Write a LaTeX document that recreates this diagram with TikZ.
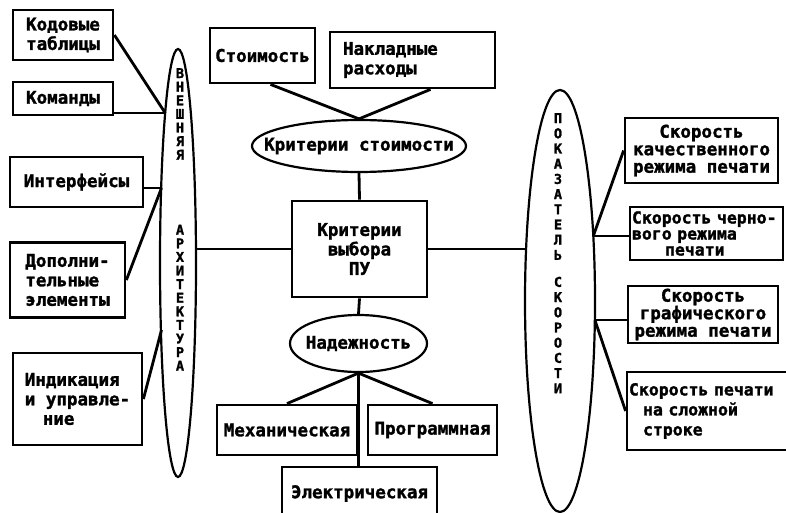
\documentclass[tikz,border=0pt]{standalone}
\usepackage{fontspec}
\newfontfamily\pf[BoldFont={* Bold}, BoldFeatures={FakeBold=1.6}]{DejaVu Sans Mono}
\usetikzlibrary{shapes.geometric}
\begin{document}
\begin{tikzpicture}[x=1pt,y=-1pt,
  txt/.style={font=\pf\bfseries\fontsize{17.5}{19.5}\selectfont},
  small/.style={font=\pf\bfseries\fontsize{16.5}{#1}\selectfont},
  blk/.style={txt, draw, line width=2.8pt, inner sep=0pt, align=center},
  oval/.style={txt, draw, ellipse, line width=2.2pt, inner sep=0pt},
  link/.style={line width=2.8pt},
  vtxt/.style={font=\pf\bfseries\fontsize{13.5}{#1}\selectfont, align=center, inner sep=0pt}
]
\useasboundingbox (0,0) rectangle (786,513);
\clip (0,0) rectangle (786,513);

% ---- left column: external architecture ----
\node[blk, minimum width=100pt, minimum height=50pt] (kt) at (63,35) {Кодовые\\таблицы};
\node[blk, minimum width=100pt, minimum height=33pt] (km) at (63,98.5) {Команды};
\node[blk, minimum width=133pt, minimum height=50pt] (intf) at (76.5,182) {Интерфейсы};
\node[blk, align=left, minimum width=115pt, minimum height=75pt] (dop) at (67.5,280) {Дополни-\\тельные\\элементы};
\node[blk, align=left, minimum width=129pt, minimum height=92pt] (ind) at (77.5,399) {Индикация\\и управле-\\\hspace*{18pt}ние};

\node[draw, ellipse, line width=2.2pt, minimum width=36pt, minimum height=428pt, inner sep=0pt] (le) at (178,263) {};
\node[vtxt=13.6, anchor=north] (lw) at (180,68)
  {В\\Н\\Е\\Ш\\Н\\Я\\Я\\[61.4pt]А\\Р\\Х\\И\\Т\\Е\\К\\Т\\У\\Р\\А};

% ---- centre column ----
\node[blk, minimum width=105pt, minimum height=55pt] (st) at (262.5,55.5) {Стоимость};
\node[blk, align=left, text width=139pt, inner xsep=13pt, minimum height=56pt] (nr) at (412.5,60) {Накладные\\расходы};
\node[oval, minimum width=214pt, minimum height=52pt] (kc) at (359,146) {\makebox[0pt]{Критерии стоимости}};
\node[blk, minimum width=135pt, minimum height=96pt] (kv) at (359.5,249) {Критерии\\выбора\\ПУ};
\node[oval, minimum width=137pt, minimum height=57pt] (nad) at (358.5,343.5) {\makebox[0pt]{Надежность}};
\node[blk, minimum width=140pt, minimum height=50pt] (mech) at (287,430) {Механическая};
\node[blk, minimum width=129pt, minimum height=50pt] (prog) at (432.5,430) {Программная};
\node[blk, minimum width=155pt, minimum height=53pt] (el) at (359.5,493.5) {Электрическая};

% ---- right column: speed figures ----
\node[draw, ellipse, line width=2.2pt, minimum width=70pt, minimum height=422pt, inner sep=0pt] (re) at (560,301) {};
\node[vtxt=15.2, anchor=north] (rw) at (558,113)
  {П\\О\\К\\А\\З\\А\\Т\\Е\\Л\\Ь\\[11.8pt]С\\К\\О\\Р\\О\\С\\Т\\И};

\node[blk, font=\pf\bfseries\fontsize{17.5}{17.5}\selectfont, minimum width=153pt, minimum height=65pt] (b1) at (701.5,150.5) {Скорость\\качественного\\режима печати};
\node[blk, small=16, align=left, text width=149pt, inner xsep=2pt, minimum height=53pt] (b2) at (706.5,233.5) {Скорость~черно-\\вого~режима\\\hspace*{33pt}печати};
\node[blk, font=\pf\bfseries\fontsize{17.5}{17.5}\selectfont, minimum width=150pt, minimum height=57pt] (b3) at (703,314.5) {Скорость\\графического\\режима печати};
\node[blk, small=20, align=left, text width=164pt, inner xsep=2pt, minimum height=78pt] (b4) at (711,411) {Скорость~печати\\\hspace*{14pt}на~сложной\\\hspace*{14pt}строке};

% ---- connector ends on the two tall ellipses ----
\coordinate (la) at (165.2,113);
\coordinate (lb) at (161.5,188);
\coordinate (lc) at (161.5,330);
\coordinate (ld) at (196,249);
\coordinate (ra) at (526,249);
\coordinate (rb) at (593.3,236);
\coordinate (rc) at (594.9,320);

% ---- connectors ----
\draw[link] (kt.east) -- (la);
\draw[link] (km.east |- la) -- (la);
\draw[link] (intf.east |- lb) -- (lb);
\draw[link] (dop.east) -- (lb);
\draw[link] (ind.east) -- (lc);
\draw[link] (kv.west) -- (ld);
\draw[link] (kv.east) -- (ra);

\draw[link] ([xshift=8pt]st.south) -- (kc.north);
\draw[link] ([xshift=18pt]nr.south) -- (kc.north);
\draw[link] (kc.south) -- (kv.north);
\draw[link] (kv.south) -- (nad.north);
\draw[link] (nad.south) -- (mech.north);
\draw[link] (nad.south) -- (prog.north);
\draw[link] (nad.south) -- (nad.south |- el.north);

\draw[link] (rb) -- (b1.west);
\draw[link] (rb) -- (b2.west |- rb);
\draw[link] (rc) -- (b3.west |- rc);
\draw[link] (rc) -- (b4.west);
\end{tikzpicture}
\end{document}
